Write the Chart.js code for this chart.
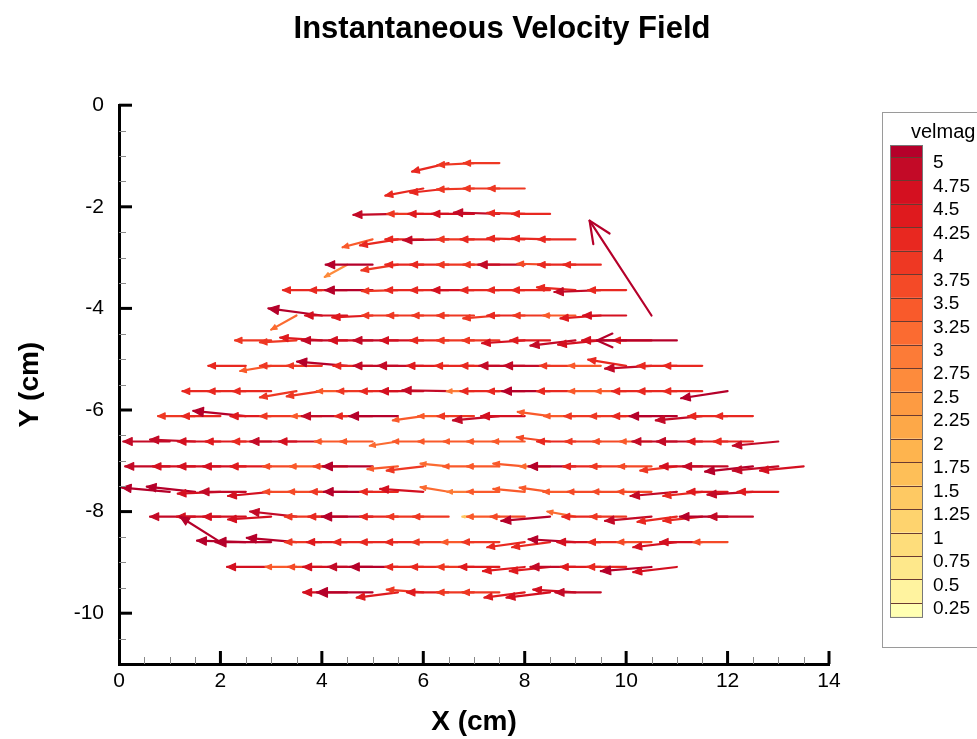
<!DOCTYPE html>
<html>
<head>
<meta charset="utf-8">
<script src="https://cdn.jsdelivr.net/npm/chart.js@4.4.0/dist/chart.umd.min.js"></script>
<style>
  html, body { margin: 0; padding: 0; background: #fff; }
  #wrap { width: 977px; height: 739px; position: relative; }
</style>
</head>
<body>
<div id="wrap"><canvas id="Chart" width="977" height="739"></canvas></div>
<script>
// rows of the measuring grid (y in cm), first tail x of each row (cm), step 0.5 cm
var yRows = [-1.14, -1.64, -2.14, -2.64, -3.14, -3.64, -4.14, -4.63, -5.13,
             -5.63, -6.12, -6.62, -7.11, -7.61, -8.1, -8.6, -9.09, -9.59];
var x0Rows = [6.5, 6.0, 5.5, 5.0, 4.5, 4.0, 3.5, 3.0, 2.5,
              2.0, 1.5, 1.0, 1.0, 1.0, 1.5, 2.0, 3.0, 4.5];
var gridStep = 0.5;

// velocity components, one list per row
var uRows = [
  [-3.9, -3.9, -3.8],
  [-4.05, -4.1, -3.95, -3.85, -3.9],
  [-4.75, -3.85, -4.3, -4.5, -4.85, -4.0, -4.05],
  [-3.2, -4.05, -4.05, -4.85, -3.95, -4.15, -4.0, -4.05, -4.0],
  [-2.4, -5.0, -3.9, -4.05, -4.1, -3.95, -3.85, -4.95, -3.5, -4.0, -4.0],
  [-4.15, -4.05, -5.05, -3.85, -4.05, -4.1, -4.5, -4.15, -4.0, -4.05, -4.1, -4.95, -4.05],
  [-2.7, -5.7, -4.5, -4.3, -3.85, -3.9, -3.9, -3.95, -3.85, -4.0, -3.95, -3.45, -4.3, -4.6, -6.6],
  [-3.85, -3.9, -4.45, -4.85, -4.65, -4.75, -4.6, -4.1, -3.95, -3.95, -4.55, -4.25, -4.8, -4.55, -4.7, -4.1, -8.5],
  [-4.0, -3.3, -3.9, -3.75, -5.35, -4.2, -4.75, -4.85, -4.45, -4.15, -4.15, -4.85, -4.95, -3.8, -3.45, -4.05, -4.95, -4.2, -4.15],
  [-4.05, -4.05, -4.1, -3.9, -3.75, -3.25, -3.8, -4.05, -4.6, -4.95, -2.9, -4.15, -4.0, -5.1, -4.1, -3.45, -3.3, -4.2, -4.2, -4.15, -4.95],
  [-3.95, -4.1, -5.6, -4.35, -3.9, -3.25, -4.85, -4.0, -5.2, -3.25, -3.25, -3.9, -4.95, -4.65, -3.45, -3.35, -3.9, -3.9, -4.2, -5.05, -4.95, -4.2, -4.0],
  [-4.95, -4.8, -4.55, -4.3, -4.15, -4.95, -4.6, -3.45, -3.45, -3.0, -3.25, -3.25, -3.25, -3.45, -3.45, -3.55, -4.1, -3.8, -3.55, -3.35, -4.75, -4.85, -4.3, -4.2, -4.85],
  [-4.75, -4.5, -4.55, -4.55, -4.35, -3.55, -3.4, -3.6, -5.3, -3.25, -3.9, -3.0, -3.3, -3.45, -3.35, -3.2, -5.0, -4.0, -3.85, -3.55, -3.9, -4.5, -4.75, -5.1, -4.85, -4.65],
  [-5.1, -5.15, -4.55, -4.85, -4.6, -3.55, -3.6, -3.95, -5.2, -4.05, -4.6, -3.0, -2.85, -3.45, -3.35, -3.25, -3.45, -3.55, -3.6, -3.65, -4.95, -4.15, -4.3, -4.85, -4.35],
  [-4.8, -4.65, -4.55, -4.6, -4.95, -3.95, -4.15, -5.4, -4.05, -3.9, -3.8, -1.25, -3.45, -3.65, -5.2, -3.0, -4.1, -3.85, -4.95, -4.2, -4.15, -5.1, -4.75],
  [-4.3, -5.2, -5.95, -5.3, -3.95, -4.3, -4.2, -4.05, -4.05, -3.9, -3.45, -3.95, -4.0, -4.05, -5.0, -4.65, -4.05, -3.65, -4.65, -4.5, -3.65],
  [-4.7, -3.3, -3.6, -4.7, -4.75, -5.1, -4.05, -4.1, -3.95, -4.3, -4.45, -4.3, -4.8, -4.3, -4.15, -5.4, -4.65],
  [-4.7, -5.95, -4.4, -3.9, -4.45, -3.95, -3.95, -4.3, -4.65, -4.5, -4.85]
];
var vRows = [
  [-0.9, -0.2, 0],
  [-0.75, -0.45, -0.1, 0, 0],
  [-0.1, 0, 0, 0, 0.15, 0.1, 0],
  [-0.85, -0.65, 0, -0.1, 0, 0, 0.1, 0.1, 0],
  [-1.3, 0, -0.6, 0, 0, 0, 0, 0, 0.1, 0, 0],
  [0, 0, 0, -0.1, 0, 0, 0, 0, 0, 0, 0.3, -0.2, 0],
  [-1.5, 0.75, 0, -0.2, 0, 0, 0, 0, -0.3, 0, 0, 0, -0.3, 0, 10.1],
  [0, -0.2, 0.3, 0, 0, 0, 0, 0, 0, 0, -0.3, 0, -0.55, -0.45, 0, 0, 0],
  [0, -0.55, 0, 0, 0.45, 0, 0, 0, 0, 0, 0, 0, 0, 0, 0, 0.65, -0.3, 0, 0],
  [0, 0, 0, -0.65, -0.55, 0, 0, 0, 0, 0.1, 0, 0, 0, 0, 0, 0, 0, 0, 0, 0, -0.75],
  [0, 0, 0.55, 0, 0, 0, 0, 0, 0, -0.45, 0, 0, -0.45, 0, 0.45, 0, 0, 0, 0, 0, -0.45, 0, 0],
  [0, 0.2, 0, 0, 0, 0, 0, 0, 0, -0.45, 0, 0, 0, 0, 0, 0.45, 0, 0, 0, 0, 0, 0, 0, 0, -0.45],
  [0, 0, 0, 0, 0, 0, 0, 0, 0, -0.3, -0.45, 0.3, 0, 0, 0.3, 0, 0, 0, 0, 0, -0.45, 0, 0, -0.55, -0.45, -0.45],
  [0.45, 0.55, -0.2, 0, -0.45, 0, 0, 0, 0, 0, 0.3, 0.5, 0, 0, 0.3, 0.45, 0, 0, 0, 0, -0.45, -0.45, 0, -0.3, 0],
  [0, 0, 0, -0.3, 0.55, 0, 0, 0, 0, 0, 0, 0, 0, 0, -0.45, 0.55, 0, 0, -0.45, -0.55, -0.45, 0, 0],
  [2.7, 0.15, 0, 0.45, 0, 0, 0, 0, 0, 0, 0, 0, -0.55, -0.55, 0.3, 0, 0, 0, -0.55, 0, 0],
  [0, 0, 0, 0, 0, 0, 0, 0, 0, 0, -0.45, -0.45, 0, 0, 0, -0.45, -0.55],
  [0, 0, -0.55, 0.3, 0, 0, 0, -0.55, -0.55, 0.3, 0]
];

// contour levels of velmag and their colours (lowest band first)
var legendLevels = [0.25, 0.5, 0.75, 1, 1.25, 1.5, 1.75, 2, 2.25, 2.5,
                    2.75, 3, 3.25, 3.5, 3.75, 4, 4.25, 4.5, 4.75, 5];
var levelColors = ["#ffffb2", "#fff39f", "#fee88b", "#fedd7b", "#fed36e", "#fec963", "#febf58",
                   "#feb44e", "#fda848", "#fd9b42", "#fd8b3c", "#fc7b37", "#fb6b31", "#f95a2b",
                   "#f44a27", "#ee3823", "#e82820", "#df1a1e", "#d41020", "#c30a27", "#b5002a"];

var titleText = "Instantaneous Velocity Field";
var xTitle = "X (cm)";
var yTitle = "Y (cm)";
var legendTitle = "velmag";

var arrowScale = 0.185; // cm on the plot per unit of velmag
var FONT = "'Liberation Sans', Arial, sans-serif";

function levelColor(m) {
  var i = 0;
  while (i < legendLevels.length && m >= legendLevels[i]) i++;
  return levelColors[i];
}

var points = [];
yRows.forEach(function (y, r) {
  uRows[r].forEach(function (u, i) {
    points.push({ x: x0Rows[r] + gridStep * i, y: y, u: u, v: vRows[r][i] });
  });
});

var arrowPlugin = {
  id: "arrows",
  afterDatasetsDraw: function (chart) {
    var xs = chart.scales.x, ys = chart.scales.y, ctx = chart.ctx;
    ctx.save();
    ctx.lineCap = "round";
    ctx.lineJoin = "round";
    chart.data.datasets[0].data.forEach(function (p) {
      var x0 = xs.getPixelForValue(p.x), y0 = ys.getPixelForValue(p.y);
      var x1 = xs.getPixelForValue(p.x + p.u * arrowScale);
      var y1 = ys.getPixelForValue(p.y + p.v * arrowScale);
      var len = Math.hypot(x1 - x0, y1 - y0);
      var a = Math.atan2(y1 - y0, x1 - x0);
      var hl = Math.max(3, len * 0.21), ha = 0.42;
      var col = levelColor(Math.hypot(p.u, p.v));
      ctx.strokeStyle = col;
      ctx.fillStyle = col;
      ctx.lineWidth = 2.2;
      ctx.beginPath();
      ctx.moveTo(x0, y0);
      ctx.lineTo(x1, y1);
      ctx.stroke();
      var hx1 = x1 - hl * Math.cos(a - ha), hy1 = y1 - hl * Math.sin(a - ha);
      var hx2 = x1 - hl * Math.cos(a + ha), hy2 = y1 - hl * Math.sin(a + ha);
      ctx.beginPath();
      ctx.moveTo(hx1, hy1);
      ctx.lineTo(x1, y1);
      ctx.lineTo(hx2, hy2);
      if (len > 60) {
        ctx.stroke();
      } else {
        ctx.closePath();
        ctx.fill();
        ctx.lineWidth = 1.2;
        ctx.stroke();
      }
    });
    ctx.restore();
  }
};

var axisPlugin = {
  id: "axisTicks",
  afterDraw: function (chart) {
    var xs = chart.scales.x, ys = chart.scales.y, ctx = chart.ctx;
    var area = chart.chartArea;
    ctx.save();
    // minor ticks
    ctx.strokeStyle = "#8a8a8a";
    ctx.lineWidth = 1;
    for (var v = -10.5; v < 0; v += 0.5) {
      if (v % 2 === 0) continue;
      var py = Math.round(ys.getPixelForValue(v)) + 0.5;
      ctx.beginPath(); ctx.moveTo(area.left, py); ctx.lineTo(area.left + 7, py); ctx.stroke();
    }
    for (var u = 0.5; u < 14; u += 0.5) {
      if (u % 2 === 0) continue;
      var px = Math.round(xs.getPixelForValue(u)) + 0.5;
      ctx.beginPath(); ctx.moveTo(px, area.bottom); ctx.lineTo(px, area.bottom - 7); ctx.stroke();
    }
    // major ticks
    ctx.strokeStyle = "#000";
    ctx.lineWidth = 3;
    ys.ticks.forEach(function (t) {
      if (t.value % 2 !== 0) return;
      var py = ys.getPixelForValue(t.value);
      ctx.beginPath(); ctx.moveTo(area.left, py); ctx.lineTo(area.left + 13, py); ctx.stroke();
    });
    xs.ticks.forEach(function (t) {
      if (t.value === 0) return;
      var px = xs.getPixelForValue(t.value);
      ctx.beginPath(); ctx.moveTo(px, area.bottom); ctx.lineTo(px, area.bottom - 13); ctx.stroke();
    });
    ctx.restore();
  }
};

var legendPlugin = {
  id: "velLegend",
  afterDraw: function (chart) {
    var ctx = chart.ctx;
    var left = 890, right = 922, top = 145, first = 157, step = 23.47;
    var n = legendLevels.length;
    var last = first + step * (n - 1);
    ctx.save();
    ctx.strokeStyle = "#9a9a9a";
    ctx.lineWidth = 1;
    ctx.strokeRect(882.5, 112.5, 120, 535);
    ctx.fillStyle = "#000";
    ctx.font = "20px " + FONT;
    ctx.textAlign = "left";
    ctx.textBaseline = "middle";
    ctx.fillText(legendTitle, 911, 132);
    // bands: top band above highest level, bottom band below lowest
    ctx.fillStyle = levelColors[n];
    ctx.fillRect(left, top, right - left, first - top);
    for (var k = 0; k < n - 1; k++) {
      ctx.fillStyle = levelColors[n - 1 - k];
      ctx.fillRect(left, first + k * step, right - left, step);
    }
    ctx.fillStyle = levelColors[0];
    ctx.fillRect(left, last, right - left, 14);
    ctx.strokeStyle = "#6b3a30";
    ctx.lineWidth = 1;
    for (var j = 0; j < n; j++) {
      var yy = Math.round(first + j * step) + 0.5;
      ctx.beginPath(); ctx.moveTo(left, yy); ctx.lineTo(right, yy); ctx.stroke();
    }
    ctx.strokeStyle = "#777";
    ctx.strokeRect(left + 0.5, top + 0.5, right - left, last + 14 - top);
    ctx.fillStyle = "#000";
    ctx.font = "19px " + FONT;
    for (var i = 0; i < n; i++) {
      ctx.fillText(String(legendLevels[n - 1 - i]), 933, first + i * step + 6);
    }
    ctx.restore();
  }
};

function initializeChart() {
  var ctx = document.getElementById("Chart").getContext("2d");
  if (window.myChart) window.myChart.destroy();
  window.myChart = new Chart(ctx, {
    type: "scatter",
    data: {
      datasets: [
        { label: legendTitle, data: points, pointRadius: 0, pointHoverRadius: 0, showLine: false }
      ]
    },
    options: {
      animation: false,
      responsive: false,
      events: [],
      layout: { padding: { top: 0, right: 0, bottom: 0, left: 27 } },
      scales: {
        x: {
          type: "linear",
          min: 0,
          max: 14,
          afterFit: function (s) { s.height = 75; },
          grid: { display: false, drawTicks: false },
          border: { display: true, color: "#000", width: 3 },
          ticks: { stepSize: 2, padding: 5, color: "#000", font: { size: 21, family: FONT } },
          title: {
            display: true, text: xTitle, color: "#000",
            font: { size: 28, weight: "bold", family: FONT }, padding: { top: 0, bottom: 0 }
          }
        },
        y: {
          type: "linear",
          min: -11,
          max: 0,
          afterFit: function (s) { s.width = 92; },
          grid: { display: false, drawTicks: false },
          border: { display: true, color: "#000", width: 3 },
          ticks: {
            stepSize: 2, padding: 15, color: "#000", font: { size: 21, family: FONT },
            callback: function (v) { return v % 2 === 0 ? v : ""; }
          },
          title: {
            display: true, text: yTitle, color: "#000",
            font: { size: 28, weight: "bold", family: FONT }, padding: { top: -14, bottom: 0 }
          }
        },
        // empty right-hand strip that holds the velmag legend
        yLegend: {
          type: "linear",
          position: "right",
          min: -11,
          max: 0,
          afterFit: function (s) { s.width = 148; },
          grid: { display: false, drawTicks: false },
          border: { display: false },
          ticks: { display: false }
        }
      },
      plugins: {
        legend: { display: false },
        tooltip: { enabled: false },
        title: {
          display: true,
          text: titleText,
          color: "#000",
          font: { size: 31, weight: "bold", family: FONT },
          padding: { top: 11, bottom: 57 }
        }
      }
    },
    plugins: [arrowPlugin, axisPlugin, legendPlugin]
  });
}

window.onload = function () {
  initializeChart();
};
</script>
</body>
</html>
